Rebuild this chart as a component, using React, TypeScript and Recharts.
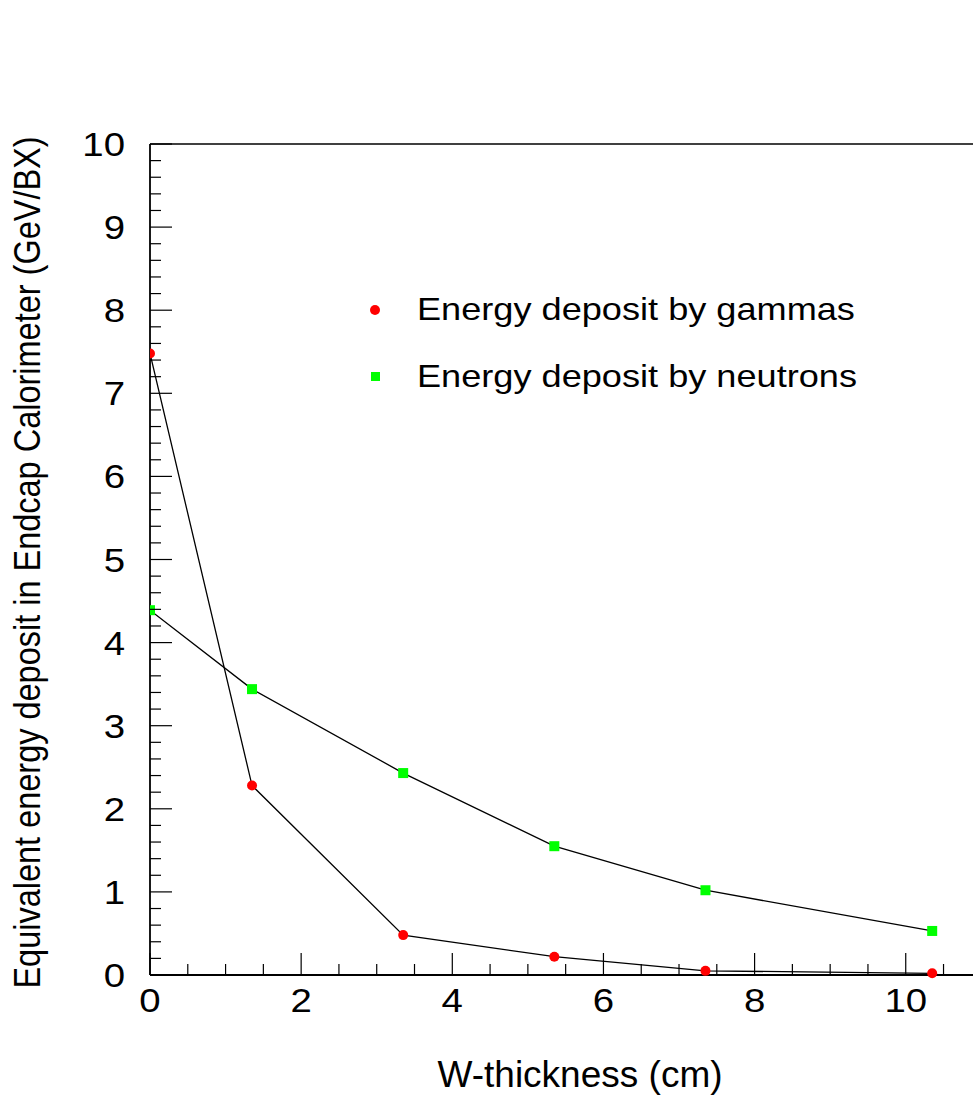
import { LineChart, Line, XAxis, YAxis, ReferenceLine, Legend } from "recharts";

const thickness = [0, 1.35, 3.35, 5.35, 7.35, 10.35];
const gammaDeposit = [7.48, 2.28, 0.48, 0.22, 0.05, 0.02];
const neutronDeposit = [4.39, 3.44, 2.43, 1.55, 1.02, 0.53];

const xMajorTicks = [0, 2, 4, 6, 8, 10];
const xTicks = [0, 0.5, 1, 1.5, 2, 2.5, 3, 3.5, 4, 4.5, 5, 5.5, 6, 6.5, 7, 7.5, 8, 8.5, 9, 9.5, 10, 10.5];
const yMajorTicks = [0, 1, 2, 3, 4, 5, 6, 7, 8, 9, 10];
// minor ticks every 0.2
const yTicks = Array.from({ length: 51 }, (_, i) => +(i * 0.2).toFixed(1));

const legendItems = [
  { label: "Energy deposit by gammas", color: "#ff0000", shape: "circle" },
  { label: "Energy deposit by neutrons", color: "#00ff00", shape: "square" },
];

const data = thickness.map((x, i) => ({
  x,
  gammas: gammaDeposit[i],
  neutrons: neutronDeposit[i],
}));

const FONT = '"Liberation Sans", Arial, Helvetica, sans-serif';
const STRETCH = 1.13;

function XTick(props: any) {
  const { x, y, payload } = props;
  const major = xMajorTicks.includes(payload.value);
  return (
    <g>
      <line x1={x} x2={x} y1={y} y2={y - (major ? 22 : 11)} stroke="#000" strokeWidth={1.2} />
      {major && (
        <text
          transform={`translate(${x},${y + 37}) scale(${STRETCH},1)`}
          textAnchor="middle"
          fontFamily={FONT}
          fontSize={34}
          fill="#000"
        >
          {payload.value}
        </text>
      )}
    </g>
  );
}

function YTick(props: any) {
  const { x, y, payload } = props;
  const major = yMajorTicks.includes(payload.value);
  return (
    <g>
      <line x1={x} x2={x + (major ? 22 : 11)} y1={y} y2={y} stroke="#000" strokeWidth={1.2} />
      {major && (
        <text
          transform={`translate(${x - 25},${y + 12}) scale(${STRETCH},1)`}
          textAnchor="end"
          fontFamily={FONT}
          fontSize={34}
          fill="#000"
        >
          {payload.value}
        </text>
      )}
    </g>
  );
}

function XTitle(props: any) {
  const { viewBox } = props;
  return (
    <text
      x={viewBox.x + 430}
      y={viewBox.y + 112}
      textAnchor="middle"
      fontFamily={FONT}
      fontSize={37}
      fill="#000"
    >
      W-thickness (cm)
    </text>
  );
}

function YTitle(props: any) {
  const { viewBox } = props;
  const cy = viewBox.y + viewBox.height / 2 + 3;
  return (
    <text
      transform={`translate(40,${cy}) scale(${STRETCH},1) rotate(-90)`}
      textAnchor="middle"
      fontFamily={FONT}
      fontSize={32.5}
      fill="#000"
    >
      Equivalent energy deposit in Endcap Calorimeter (GeV/BX)
    </text>
  );
}

function RedDot(props: any) {
  const { cx, cy } = props;
  if (cx == null || cy == null) return null;
  return <circle cx={cx} cy={cy} r={5} fill="#ff0000" />;
}

function GreenDot(props: any) {
  const { cx, cy } = props;
  if (cx == null || cy == null) return null;
  return <rect x={cx - 5} y={cy - 5} width={10} height={10} fill="#00ff00" />;
}

function LegendBox() {
  return (
    <svg width={973} height={420} style={{ position: "absolute", left: 0, top: 0, pointerEvents: "none" }}>
      {legendItems.map((item, i) => {
        const cy = 310 + i * 66.5;
        return (
          <g key={item.label}>
            {item.shape === "circle" ? (
              <circle cx={375} cy={cy} r={5} fill={item.color} />
            ) : (
              <rect x={371} y={cy - 4.5} width={9} height={9} fill={item.color} />
            )}
            <text
              transform={`translate(417,${cy + 10}) scale(${STRETCH},1)`}
              fontFamily={FONT}
              fontSize={32}
              fill="#000"
            >
              {item.label}
            </text>
          </g>
        );
      })}
    </svg>
  );
}

export default function App() {
  return (
    <div style={{ width: 973, height: 1097, background: "#fff" }}>
      <style>{"html, body { margin: 0; padding: 0; overflow: hidden; }"}</style>
      <LineChart
        width={973}
        height={1097}
        data={data}
        margin={{ top: 144, right: 0, bottom: 0, left: 0 }}
      >
        <XAxis
          type="number"
          dataKey="x"
          domain={[0, 10.89]}
          allowDataOverflow
          ticks={xTicks}
          interval={0}
          tickSize={0}
          tickMargin={0}
          tick={<XTick />}
          height={122}
          axisLine={{ stroke: "#000", strokeWidth: 1.8 }}
          label={<XTitle />}
        />
        <YAxis
          type="number"
          domain={[0, 10]}
          ticks={yTicks}
          interval={0}
          tickSize={0}
          tickMargin={0}
          tick={<YTick />}
          width={150}
          axisLine={{ stroke: "#000", strokeWidth: 1.8 }}
          label={<YTitle />}
        />
        <ReferenceLine y={10} stroke="#000" strokeWidth={1.5} />
        <Line
          dataKey="gammas"
          stroke="#000"
          strokeWidth={1.3}
          dot={<RedDot />}
          activeDot={false}
          isAnimationActive={false}
          legendType="circle"
        />
        <Line
          dataKey="neutrons"
          stroke="#000"
          strokeWidth={1.3}
          dot={<GreenDot />}
          activeDot={false}
          isAnimationActive={false}
          legendType="square"
        />
        <Legend
          layout="horizontal"
          verticalAlign="middle"
          align="center"
          content={<LegendBox />}
          wrapperStyle={{ position: "absolute", left: 0, top: 0, width: 973, height: 420, pointerEvents: "none" }}
        />
      </LineChart>
    </div>
  );
}
